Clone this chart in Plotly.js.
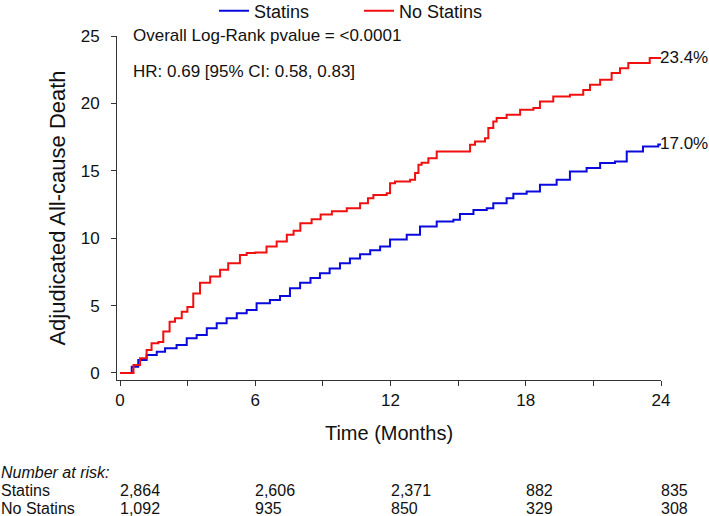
<!DOCTYPE html>
<html>
<head>
<meta charset="utf-8">
<script src="https://cdn.plot.ly/plotly-3.0.1.min.js"></script>
<style>
  html, body { margin: 0; padding: 0; background: #fff; }
  #chart { width: 709px; height: 516px; }
</style>
</head>
<body>
<div id="chart"></div>
<script>
// ---- Data ----
const seriesNames = ['Statins', 'No Statins'];

const statinsMonths = [0, 0.22, 0.52, 0.81, 1.18, 1.63, 2.0, 2.51, 2.96, 3.4, 3.85, 4.29, 4.73, 5.18, 5.62, 6.06, 6.65, 7.1, 7.54, 7.99, 8.45, 8.87, 9.3, 9.76, 10.2, 10.65, 11.1, 11.54, 11.98, 12.72, 13.31, 14.05, 14.79, 15.08, 15.68, 16.27, 16.56, 17.15, 17.45, 18.04, 18.63, 19.37, 19.96, 20.7, 21.3, 21.96, 22.48, 23.2, 23.88, 24];
const statinsDeath  = [0, 0, 0.47, 0.96, 1.34, 1.58, 1.83, 2.08, 2.57, 2.82, 3.32, 3.69, 4.06, 4.43, 4.68, 5.17, 5.42, 5.72, 6.29, 6.7, 7.05, 7.4, 7.75, 8.14, 8.5, 8.8, 9.1, 9.38, 9.9, 10.25, 10.86, 11.23, 11.36, 11.8, 12.1, 12.23, 12.6, 12.97, 13.29, 13.46, 13.96, 14.33, 14.94, 15.2, 15.57, 15.69, 16.43, 16.8, 16.95, 17.0];

const noStatinsMonths = [0, 0.35, 0.6, 0.89, 1.18, 1.4, 1.7, 1.92, 2.2, 2.44, 2.74, 2.99, 3.25, 3.55, 4.0, 4.44, 4.8, 5.32, 5.62, 6.0, 6.5, 6.95, 7.4, 7.7, 8.0, 8.5, 8.9, 9.4, 10.06, 10.65, 11.0, 11.24, 11.83, 11.98, 12.2, 12.87, 13.09, 13.24, 13.38, 13.68, 14.05, 15.3, 15.53, 15.75, 16.19, 16.34, 16.56, 16.71, 17.15, 17.75, 18.34, 18.63, 19.22, 19.96, 20.55, 20.85, 21.3, 21.81, 22.18, 22.55, 23.2, 23.5, 24];
const noStatinsDeath  = [0, 0, 0.6, 1.1, 1.7, 2.2, 2.3, 3.07, 3.8, 4.06, 4.55, 4.9, 5.9, 6.7, 7.15, 7.65, 8.14, 8.76, 8.9, 8.93, 9.38, 9.75, 10.25, 10.56, 11.1, 11.4, 11.75, 12.0, 12.23, 12.6, 12.97, 13.2, 13.34, 14.08, 14.2, 14.33, 14.83, 15.44, 15.6, 15.94, 16.43, 16.43, 16.93, 17.17, 17.42, 18.17, 18.66, 18.91, 19.15, 19.52, 19.65, 20.14, 20.51, 20.64, 21.0, 21.38, 21.75, 22.25, 22.6, 23.0, 23.0, 23.36, 23.4];

const endLabels = ['17.0%', '23.4%'];

const xTickVals = [0, 3, 6, 9, 12, 15, 18, 21, 24];
const xTickText = ['0', '', '6', '', '12', '', '18', '', '24'];
const yTickVals = [0, 5, 10, 15, 20, 25];

const riskTimes = [0, 6, 12, 18, 24];
const riskStatins   = ['2,864', '2,606', '2,371', '882', '835'];
const riskNoStatins = ['1,092', '935', '850', '329', '308'];

const statsLines = ['Overall Log-Rank pvalue = <0.0001', 'HR: 0.69 [95% CI: 0.58, 0.83]'];

// ---- Layout geometry ----
const W = 709, H = 516;
const M = { l: 117, r: 48, t: 36, b: 136 };
const plotW = W - M.l - M.r;
const plotH = H - M.t - M.b;
const px2paperX = px => (px - M.l) / plotW;
const px2paperY = py => (H - M.b - py) / plotH;

const FONT = 'Arial, "Liberation Sans", sans-serif';
const TXT = '#111111';
const BLUE = '#0a0adc';
const RED = '#f01010';

const traces = [
  {
    x: statinsMonths, y: statinsDeath, name: seriesNames[0],
    type: 'scatter', mode: 'lines',
    line: { color: BLUE, width: 2, shape: 'hv' }
  },
  {
    x: noStatinsMonths, y: noStatinsDeath, name: seriesNames[1],
    type: 'scatter', mode: 'lines',
    line: { color: RED, width: 2, shape: 'hv' }
  }
];

const annotations = [];
// stats text
statsLines.forEach((t, i) => {
  annotations.push({
    xref: 'paper', yref: 'paper',
    x: px2paperX(131), y: px2paperY(i === 0 ? 35 : 72),
    xanchor: 'left', yanchor: 'middle',
    text: t, showarrow: false,
    font: { family: FONT, size: 17, color: TXT }
  });
});
// end labels
annotations.push({
  xref: 'x', yref: 'y', x: statinsMonths[statinsMonths.length - 1], y: statinsDeath[statinsDeath.length - 1],
  xanchor: 'left', yanchor: 'middle', xshift: -3, text: endLabels[0], showarrow: false,
  font: { family: FONT, size: 17, color: TXT }
});
annotations.push({
  xref: 'x', yref: 'y', x: noStatinsMonths[noStatinsMonths.length - 1], y: noStatinsDeath[noStatinsDeath.length - 1],
  xanchor: 'left', yanchor: 'middle', xshift: -3, text: endLabels[1], showarrow: false,
  font: { family: FONT, size: 17, color: TXT }
});
// risk table
const RISK_FONT = 16;
annotations.push({
  xref: 'paper', yref: 'paper', x: px2paperX(-1), y: px2paperY(472),
  xanchor: 'left', yanchor: 'middle', text: '<i>Number at risk:</i>', showarrow: false,
  font: { family: FONT, size: RISK_FONT, color: TXT }
});
[[seriesNames[0], riskStatins, 490], [seriesNames[1], riskNoStatins, 508]].forEach(([name, vals, py]) => {
  annotations.push({
    xref: 'paper', yref: 'paper', x: px2paperX(-1), y: px2paperY(py),
    xanchor: 'left', yanchor: 'middle', text: name, showarrow: false,
    font: { family: FONT, size: RISK_FONT, color: TXT }
  });
  vals.forEach((v, i) => {
    annotations.push({
      xref: 'x', yref: 'paper', x: riskTimes[i], y: px2paperY(py),
      xanchor: 'left', yanchor: 'middle', xshift: -2, text: v, showarrow: false,
      font: { family: FONT, size: RISK_FONT, color: TXT }
    });
  });
});

const layout = {
  width: W, height: H,
  margin: M,
  paper_bgcolor: '#ffffff', plot_bgcolor: '#ffffff',
  font: { family: FONT, color: TXT },
  showlegend: true,
  legend: {
    orientation: 'h',
    xref: 'container', yref: 'container',
    x: 214 / W, xanchor: 'left',
    y: 1 - 11 / H, yanchor: 'middle',
    font: { family: FONT, size: 18, color: TXT },
    entrywidth: 100, entrywidthmode: 'pixels',
    bgcolor: 'rgba(0,0,0,0)'
  },
  xaxis: {
    range: [-0.133, 24],
    tickvals: xTickVals, ticktext: xTickText,
    ticks: 'outside', ticklen: 5, tickcolor: '#333', tickwidth: 1,
    showline: true, linecolor: '#333', linewidth: 1,
    showgrid: false, zeroline: false,
    tickfont: { family: FONT, size: 17, color: TXT },
    title: { text: 'Time (Months)', font: { family: FONT, size: 20, color: TXT }, standoff: 16 },
    automargin: false,
    fixedrange: true
  },
  yaxis: {
    range: [-0.52, 25],
    tickvals: yTickVals,
    ticks: 'outside', ticklen: 5, tickcolor: '#333', tickwidth: 1,
    showline: true, linecolor: '#333', linewidth: 1,
    showgrid: false, zeroline: false,
    tickfont: { family: FONT, size: 17, color: TXT },
    ticklabelstandoff: 8,
    title: { text: 'Adjudicated All-cause Death', font: { family: FONT, size: 22, color: TXT }, standoff: 8 },
    automargin: false,
    fixedrange: true
  },
  annotations: annotations
};

Plotly.newPlot('chart', traces, layout, { displayModeBar: false, staticPlot: true });
</script>
</body>
</html>
